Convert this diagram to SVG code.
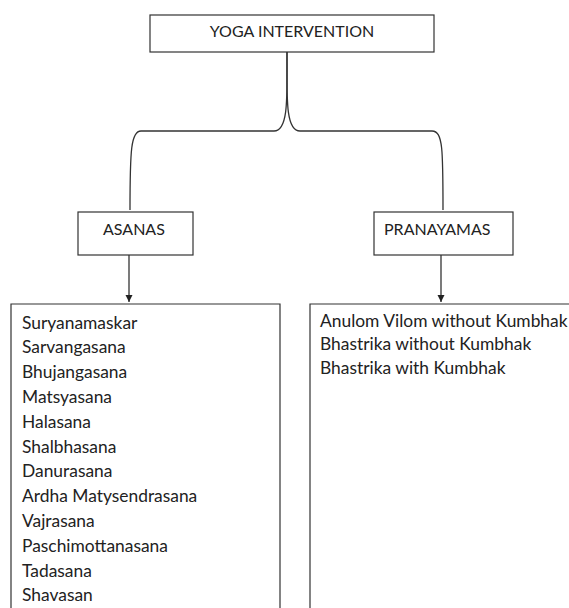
<svg xmlns="http://www.w3.org/2000/svg" width="569" height="608" viewBox="0 0 569 608">
<style>
.box{fill:#fff;stroke:#333;stroke-width:1.2}
.t{font-family:Lato,"Open Sans",sans-serif;font-size:16px;fill:#222}
.l{font-family:Lato,"Open Sans",sans-serif;font-size:17.4px;fill:#222}
.c{fill:none;stroke:#333;stroke-width:1.3}
</style>
<defs>
<marker id="ah" markerWidth="8" markerHeight="8" refX="7" refY="4" orient="auto" markerUnits="userSpaceOnUse">
<path d="M0,0.5 L7,4 L0,7.5 Z" fill="#222"/>
</marker>
</defs>
<g id="connectors">
<path class="c" d="M287,52 C287,95 289,131 274,131 L141,131 C131,131 130,150 130,210"/>
<path class="c" d="M287,52 C287,95 285,131 300,131 L432,131 C443,131 443,150 443,210"/>
<line class="c" x1="129" y1="255" x2="129" y2="302" marker-end="url(#ah)"/>
<line class="c" x1="441" y1="255" x2="441" y2="302" marker-end="url(#ah)"/>
</g>
<g id="yoga">
<rect class="box" x="150" y="15" width="284" height="37"/>
<text class="t" x="292" y="37" text-anchor="middle">YOGA INTERVENTION</text>
</g>
<g id="asanas">
<rect class="box" x="78" y="212" width="115" height="43"/>
<text class="t" x="103" y="235">ASANAS</text>
</g>
<g id="pranayamas">
<rect class="box" x="374" y="212" width="139" height="43"/>
<text class="t" x="384" y="235">PRANAYAMAS</text>
</g>
<g id="asana-list">
<path class="box" d="M11,610 L11,304 L280,304 L280,610"/>
<text class="l" x="22" y="329">Suryanamaskar</text>
<text class="l" x="22" y="353">Sarvangasana</text>
<text class="l" x="22" y="378">Bhujangasana</text>
<text class="l" x="22" y="403">Matsyasana</text>
<text class="l" x="22" y="428">Halasana</text>
<text class="l" x="22" y="453">Shalbhasana</text>
<text class="l" x="22" y="477">Danurasana</text>
<text class="l" x="22" y="502">Ardha Matysendrasana</text>
<text class="l" x="22" y="527">Vajrasana</text>
<text class="l" x="22" y="552">Paschimottanasana</text>
<text class="l" x="22" y="577">Tadasana</text>
<text class="l" x="22" y="601">Shavasan</text>
</g>
<g id="pranayama-list">
<path class="box" d="M310,610 L310,304 L575,304"/>
<text class="l" x="320" y="327">Anulom Vilom without Kumbhak</text>
<text class="l" x="320" y="350">Bhastrika without Kumbhak</text>
<text class="l" x="320" y="374">Bhastrika with Kumbhak</text>
</g>
</svg>
